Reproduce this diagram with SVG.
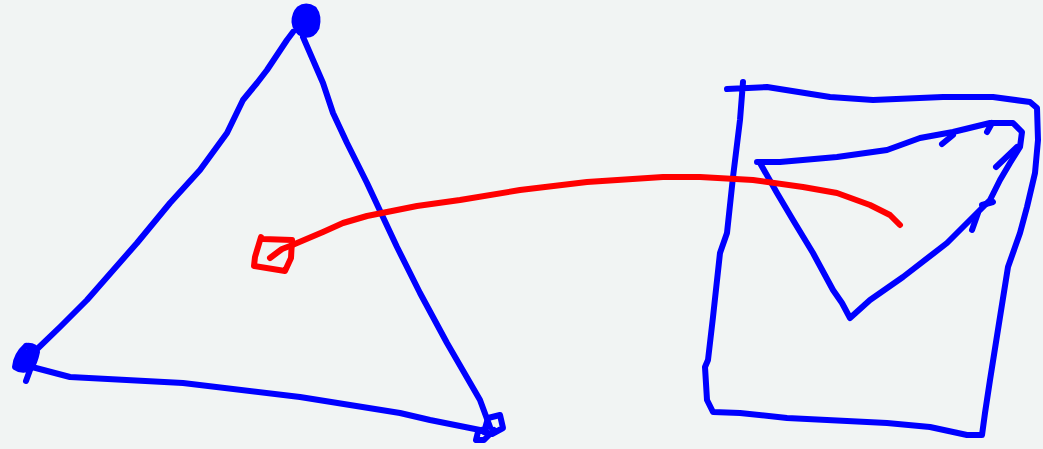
<svg xmlns="http://www.w3.org/2000/svg" width="1043" height="449" viewBox="0 0 1043 449">
<style>
.b{fill:none;stroke:#0000ff;stroke-width:6;stroke-linecap:round;stroke-linejoin:round}
.r{fill:none;stroke:#ff0000;stroke-width:6;stroke-linecap:round;stroke-linejoin:round}
</style>
<rect width="1043" height="449" fill="#f1f4f3"/>
<g id="triangle">
<path class="b" d="M293,32 L287,40 L267,70 L257,83 L243,100 L227,133 L200,170 L170,203 L137,243 L87,300 L60,327 L33,353"/>
<path class="b" d="M32,367 L70,377 L183,383 L300,397 L400,413 L430,420 L480,430"/>
<path class="b" d="M303,37 L313,60 L323,83 L333,113 L347,143 L367,183 L397,247 L420,293 L447,343 L480,400 L490,427"/>
<path d="M298,8 Q306,2 315,8 Q321,16 318,28 Q313,38 303,36 Q294,32 293,22 Q293,13 298,8 Z" fill="#0000ff" stroke="#0000ff" stroke-width="3"/>
<path d="M26,346 Q35,345 37,352 Q35,362 30,370 L26,381 M26,346 Q16,355 15,367 Q22,372 30,368" class="b"/>
<path d="M17,364 Q22,350 33,350 Q34,364 24,370 Z" fill="#0000ff" stroke="#0000ff" stroke-width="4"/>
<path class="b" d="M488,418 L500,415 L503,428 L492,434 L484,432 Z M486,428 L478,432 L476,440 L484,440 L494,430"/>
</g>
<g id="frame">
<path class="b" d="M743,82 L740,120 L733,177 L727,233 L720,253 L713,317 L708,360 L705,367 L707,400 L713,412 L740,413 L787,418 L887,423 L930,427 L967,435 L982,435 L985,413 L990,380 L1000,317 L1008,267 L1020,233 L1027,207 L1035,173 L1038,140 L1037,108 L1030,102 L993,97 L943,97 L873,100 L830,97 L767,87 L727,89"/>
</g>
<g id="inner">
<path class="b" d="M757,162 L780,162 L837,157 L887,150 L920,138 L953,132 L990,123 L1013,123 L1022,132 L1020,147 L1010,163 L1000,180 L990,200 L980,210 L947,243 L903,277 L870,300 L850,318 L842,303 L833,290 L813,253 L793,220 L777,193 L760,163"/>
<path class="b" d="M942,144 L953,135 M987,132 L992,123 M996,167 L1017,147 M982,205 L993,202 M972,230 L978,213"/>
</g>
<g id="connectors">
<path class="r" d="M261,237 L255,257 L254,266 L285,271 L291,258 L292,240 L263,239"/>
<path class="r" d="M270,258 L282,249 L290,246 L323,232 L343,223 L367,216 L417,206 L460,200 L520,190 L587,182 L663,177 L700,177 L753,180 L803,187 L837,193 L870,205 L890,215 L900,225"/>
</g>
</svg>
